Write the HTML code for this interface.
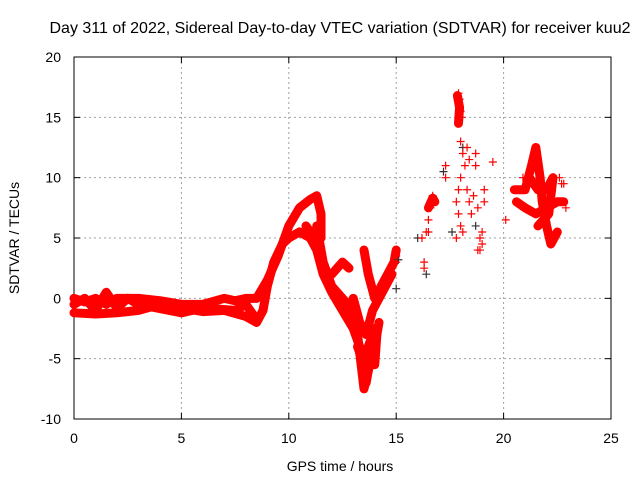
<!DOCTYPE html>
<html><head><meta charset="utf-8"><style>
body{margin:0;background:#fff}
svg{display:block;font-family:"Liberation Sans",sans-serif;font-size:14px}
</style></head><body>
<svg id="chart" width="640" height="480" viewBox="0 0 640 480">
<rect width="640" height="480" fill="#fff"/>
<text x="340" y="33" text-anchor="middle" font-size="16">Day 311 of 2022, Sidereal Day-to-day VTEC variation (SDTVAR) for receiver kuu2</text>
<g id="grid"></g>
<g id="axes"></g>
<g id="series"></g>
<text x="340" y="471" text-anchor="middle">GPS time / hours</text>
<text transform="translate(19,238) rotate(-90)" text-anchor="middle">SDTVAR / TECUs</text>
</svg>
<script>
const xTicks=[0,5,10,15,20,25];
const yTicks=[-10,-5,0,5,10,15,20];
const traceLow=[[0,-1.2],[1,-1.3],[2,-1.2],[3,-1],[4,-0.5],[5,-0.8],[6,-1.1],[7,-1],[8,-1.5],[8.5,-2],[8.8,-1],[9,1],[9.3,3],[9.7,4.5],[10,5],[10.5,5.5],[11,5],[11.3,4],[11.6,2],[12,0.5],[12.5,-1],[13,-2.5],[13.3,-4],[13.5,-6],[13.7,-4],[14,-2.5]];
const traceHigh=[[0,0],[0.5,-0.3],[1,0],[1.5,-0.5],[2,0],[3,0],[4,-0.2],[5,-0.5],[6,-0.5],[7,0],[7.5,-0.2],[8,0],[8.5,0],[9,1.5],[9.5,3.5],[10,6],[10.5,7.5],[11,8.2],[11.3,8.5],[11.5,7],[11.5,5]];
const traceMid=[[0,-0.5],[0.5,0],[1,-1],[1.5,0.5],[2,-0.8],[2.5,0],[3,-0.5],[5,-1.2],[6,-0.8],[7.5,-1],[8,-0.5],[8.4,-1.5]];
const traceArc1=[[10.8,6],[11.2,5],[11.5,3],[11.8,2],[12,2],[12.5,3],[12.8,2.5]];
const traceArc2=[[11.3,6],[11.6,3],[12,1],[12.5,0],[13,-1],[13.2,-3],[13.4,-6],[13.5,-7.5],[13.7,-6],[14,-4],[14.2,-2]];
const traceLate=[[13.5,4],[13.7,2],[14,0],[14.3,1],[14.6,2],[14.9,3],[15,4]];
const traceScat=[[12.8,-1],[13,0],[13.3,-2],[13.6,-3],[13.9,-1],[14.2,0],[14.5,1],[14.8,2]];
const traceDeep=[[13.2,-4],[13.4,-5],[13.6,-7],[13.8,-5],[14,-5.5],[14.1,-3]];
const tracePeak=[[17.85,16.8],[17.95,15.8],[17.9,14.5]];
const traceDawn=[[16.5,7.5],[16.7,8.3],[16.8,8]];
const traceEveA=[[20.5,9],[21,9],[21.3,11],[21.5,12.5],[21.7,10],[21.8,8],[22,6],[22.2,4.5],[22.5,5.5]];
const traceEveB=[[20.6,8],[21,7.5],[21.5,7],[22,7.5],[22.5,8],[22.8,8]];
const traceEveC=[[21.2,10],[21.6,9],[22,9],[22.3,10],[22.1,7],[21.6,6]];
const scatterT=[15,15,16.2,16.3,16.3,16.4,16.5,16.6,16.6,16.7,16.8,16.5,17.3,17.3,17.9,17.95,18,17.9,18,18.1,18.2,18,17.9,17.8,17.9,18,18.1,17.8,18.3,18.4,18.5,18.6,18.8,18.9,19,19.1,19.1,18.9,19,18.8,18.7,18.7,19.5,20.1,20.9,21,22.7,22.8,22.9,22.8,22.6,18.3,18.4,17.95,18.05];
const scatterV=[3,3.5,5,2.5,3,5.5,6.5,7.5,8,8.5,8,5.5,11,10,17,16,15.5,14.5,13,12,11,10,9,8,7,6,5.5,5,9,8,7,8.5,7.5,5,5.5,9,8,4,4.5,4,12,11,11.3,6.5,10,9,9.5,8,7.5,9.5,10,12.5,11.5,16.5,15];
const darkT=[17.2,18.1,18.7,16.4,15,16,15.1,17.6];
const darkV=[10.5,12.5,6,2,0.8,5,3.2,5.5];
const X0=74,X1=611,Y0=419,Y1=57;
const sx=t=>X0+(t-0)/(25-0)*(X1-X0);
const sy=v=>Y0-(v+10)/(30)*(Y0-Y1);
const NS="http://www.w3.org/2000/svg";
function mk(tag,attrs,parent){const e=document.createElementNS(NS,tag);for(const k in attrs)e.setAttribute(k,attrs[k]);parent.appendChild(e);return e;}
const grid=document.getElementById('grid'),axes=document.getElementById('axes'),ser=document.getElementById('series');
xTicks.forEach(t=>{
 if(t>0&&t<25){const l=mk('line',{x1:sx(t),x2:sx(t),y1:Y0,y2:Y1,stroke:'#a0a0a0','stroke-dasharray':'2,3'},grid);
 
 }
 const tk=mk('text',{x:sx(t),y:Y0+24,'text-anchor':'middle'},axes);tk.textContent=t;
 
 
 mk('line',{x1:sx(t),x2:sx(t),y1:Y0,y2:Y0-6,stroke:'#000'},axes);
 mk('line',{x1:sx(t),x2:sx(t),y1:Y1,y2:Y1+6,stroke:'#000'},axes);
});
yTicks.forEach(v=>{
 if(v>-10&&v<20){const l=mk('line',{x1:X0,x2:X1,y1:sy(v),y2:sy(v),stroke:'#a0a0a0','stroke-dasharray':'2,3'},grid);
 
 }
 const tk=mk('text',{x:X0-13,y:sy(v)+5,'text-anchor':'end'},axes);tk.textContent=v;
 
 
 mk('line',{x1:X0,x2:X0+6,y1:sy(v),y2:sy(v),stroke:'#000'},axes);
 mk('line',{x1:X1,x2:X1-6,y1:sy(v),y2:sy(v),stroke:'#000'},axes);
});
mk('rect',{x:X0,y:Y1,width:X1-X0,height:Y0-Y1,fill:'none',stroke:'#000'},axes);
function plus(t,v,c){mk('path',{d:`M${sx(t)-4},${sy(v)}h8M${sx(t)},${sy(v)-4}v8`,stroke:c,'stroke-width':1.2,fill:'none'},ser);}
[traceLow,traceHigh,traceMid,traceArc1,traceArc2,traceLate,traceScat,traceDeep,tracePeak,traceDawn,traceEveA,traceEveB,traceEveC].forEach(tr=>{
 const p=mk('polyline',{points:tr.map(d=>sx(d[0])+','+sy(d[1])).join(' '),fill:'none',stroke:'#f00','stroke-width':9,'stroke-linejoin':'round','stroke-linecap':'round'},ser);
 
 
 tr.forEach(d=>plus(d[0],d[1],'#f00'));
});
darkT.forEach((t,i)=>plus(t,darkV[i],'#333'));
scatterT.forEach((t,i)=>plus(t,scatterV[i],'#f00'));
</script>
</body></html>
